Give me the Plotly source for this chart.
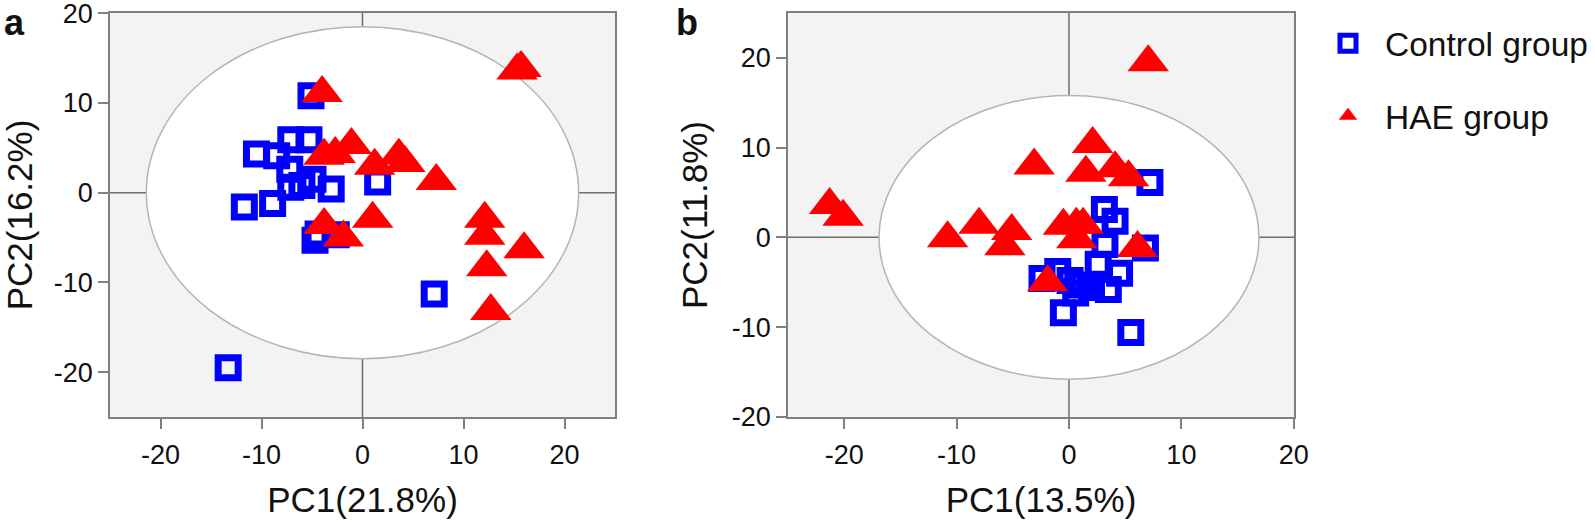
import plotly.graph_objects as go

# ---------------- data ----------------
# Panel a
ctrl_a_x = [-5.1, -7.1, -5.3, -10.5, -8.5, -7.2, -4.9, -7.1, -6.0, -3.1, 1.5, -8.9, -11.7, -4.4, -2.6, -4.7, 7.1, -13.3]
ctrl_a_y = [10.8, 5.9, 5.9, 4.3, 4.1, 2.6, 1.5, 0.6, 0.8, 0.4, 1.2, -1.2, -1.6, -4.6, -4.7, -5.3, -11.3, -19.5]
hae_a_x = [-4.0, 15.3, 15.7, -1.1, -2.7, -3.8, 3.6, 4.2, 1.2, 7.3, 1.0, -3.8, -1.9, 12.1, 12.1, 16.0, 12.3, 12.7]
hae_a_y = [11.1, 13.6, 13.9, 5.3, 4.3, 4.1, 4.1, 3.3, 3.0, 1.3, -2.9, -3.6, -5.0, -2.9, -4.8, -6.3, -8.3, -13.2]

# Panel b
ctrl_b_x = [7.2, 3.15, 4.1, 3.2, 6.8, 2.6, 4.5, -1.0, -2.4, 1.2, 3.5, 0.6, -0.5, 5.5, 0.1, 2.0]
ctrl_b_y = [6.1, 3.1, 1.8, -0.8, -1.2, -3.0, -4.0, -3.8, -4.6, -5.3, -5.8, -6.2, -8.4, -10.6, -4.8, -5.6]
hae_b_x = [7.05, 2.1, -3.1, 1.5, 4.1, 5.3, -21.3, -20.1, -8.0, -10.8, -5.1, -5.7, -0.5, 0.65, 1.25, 0.7, 6.1, -1.9]
hae_b_y = [19.5, 10.4, 8.0, 7.2, 7.7, 6.7, 3.6, 2.3, 1.4, -0.1, 0.7, -1.0, 1.3, 1.4, 1.4, -0.2, -1.2, -5.0]

# Hotelling T2 ellipse semi-axes (PC1, PC2)
ellipse_a = (21.4, 18.5)
ellipse_b = (16.9, 15.8)

group_names = ["Control group", "HAE group"]
panel_labels = ["a", "b"]
x_titles = ["PC1(21.8%)", "PC1(13.5%)"]
y_titles = ["PC2(16.2%)", "PC2(11.8%)"]
tick_vals = [-20, -10, 0, 10, 20]
tick_text = ["-20", "-10", "0", "10", "20"]

# ---------------- style ----------------
BLUE = "#0000ff"
RED = "#ff0000"
FONT = "Arial, 'Liberation Sans', sans-serif"
AXIS_GRAY = "#808080"
CROSS_GRAY = "#6e6e6e"
TXT = "#111111"

W, H = 1595, 522


def px_x(p):  # pixel from left -> paper fraction
    return p / W


def px_y(p):  # pixel from top -> paper fraction (from bottom)
    return 1 - p / H


fig = go.Figure()

panels = [
    ("x", "y", ctrl_a_x, ctrl_a_y, hae_a_x, hae_a_y, True),
    ("x2", "y2", ctrl_b_x, ctrl_b_y, hae_b_x, hae_b_y, False),
]
for xa, ya, cx, cy, hx, hy, show in panels:
    fig.add_trace(go.Scatter(
        x=cx, y=cy, mode="markers", name=group_names[0], legendgroup="ctrl",
        showlegend=show, xaxis=xa, yaxis=ya,
        marker=dict(symbol="square-open", size=20, color=BLUE,
                    line=dict(width=7, color=BLUE)),
    ))
    fig.add_trace(go.Scatter(
        x=hx, y=hy, mode="markers", name=group_names[1], legendgroup="hae",
        showlegend=show, xaxis=xa, yaxis=ya,
        marker=dict(symbol="triangle-up", size=36, color=RED, line=dict(width=0)),
    ))

shapes = []
for (xa, ya), (ea, eb) in zip([("x", "y"), ("x2", "y2")], [ellipse_a, ellipse_b]):
    shapes.append(dict(type="circle", xref=xa, yref=ya, x0=-ea, x1=ea, y0=-eb, y1=eb,
                       fillcolor="white", line=dict(color="#b4b4b4", width=1.5), layer="below"))
    shapes.append(dict(type="line", xref=xa + " domain", yref=ya, x0=0, x1=1, y0=0, y1=0,
                       line=dict(color=CROSS_GRAY, width=1.5), layer="below"))
    shapes.append(dict(type="line", xref=xa, yref=ya + " domain", x0=0, x1=0, y0=0, y1=1,
                       line=dict(color=CROSS_GRAY, width=1.5), layer="below"))

ydom = [px_y(417), px_y(13)]


def base_axis(domain, rng, title, anchor):
    return dict(domain=domain, range=rng, anchor=anchor, automargin=False,
                tickmode="array", tickvals=tick_vals, ticktext=tick_text,
                ticks="outside", ticklen=10, tickwidth=1.5, tickcolor=AXIS_GRAY,
                showline=True, linecolor=AXIS_GRAY, linewidth=1.5, mirror=True,
                showgrid=False, zeroline=False, ticklabeloverflow="allow",
                tickfont=dict(family=FONT, size=27, color=TXT),
                title=dict(text=title, font=dict(family=FONT, size=35, color=TXT)))


def xaxis(domain, rng, title, anchor):
    d = base_axis(domain, rng, title, anchor)
    d["ticklabelstandoff"] = 3
    d["title"]["standoff"] = 18
    return d


def yaxis(domain, rng, title, anchor):
    d = base_axis(domain, rng, title, anchor)
    d["title"]["standoff"] = 14
    return d


fig.update_layout(
    width=W, height=H,
    margin=dict(l=0, r=0, t=0, b=0, pad=0, autoexpand=False),
    paper_bgcolor="white",
    plot_bgcolor="#f3f3f3",
    font=dict(family=FONT, color=TXT),
    xaxis=xaxis([px_x(110), px_x(615)], [-25, 25], x_titles[0], "y"),
    yaxis=yaxis(ydom, [-25, 20.02], y_titles[0], "x"),
    xaxis2=xaxis([px_x(788), px_x(1294)], [-25, 20.02], x_titles[1], "y2"),
    yaxis2=yaxis(ydom, [-20.02, 25], y_titles[1], "x2"),
    shapes=shapes,
    legend=dict(x=px_x(1311), y=px_y(15), xanchor="left", yanchor="top",
                bgcolor="rgba(0,0,0,0)", font=dict(family=FONT, size=33.5, color=TXT),
                itemwidth=64, tracegroupgap=26),
    annotations=[
        dict(text="<b>%s</b>" % panel_labels[0], xref="paper", yref="paper", x=px_x(2), y=1,
             xanchor="left", yanchor="top", showarrow=False,
             font=dict(family=FONT, size=36, color=TXT)),
        dict(text="<b>%s</b>" % panel_labels[1], xref="paper", yref="paper", x=px_x(674), y=1,
             xanchor="left", yanchor="top", showarrow=False,
             font=dict(family=FONT, size=36, color=TXT)),
    ],
    showlegend=True,
)

# remove the browser's default body margin so the figure fills the window exactly
fig.write_html("out.html", config={"displayModeBar": False},
               post_script="document.body.style.margin='0';")
